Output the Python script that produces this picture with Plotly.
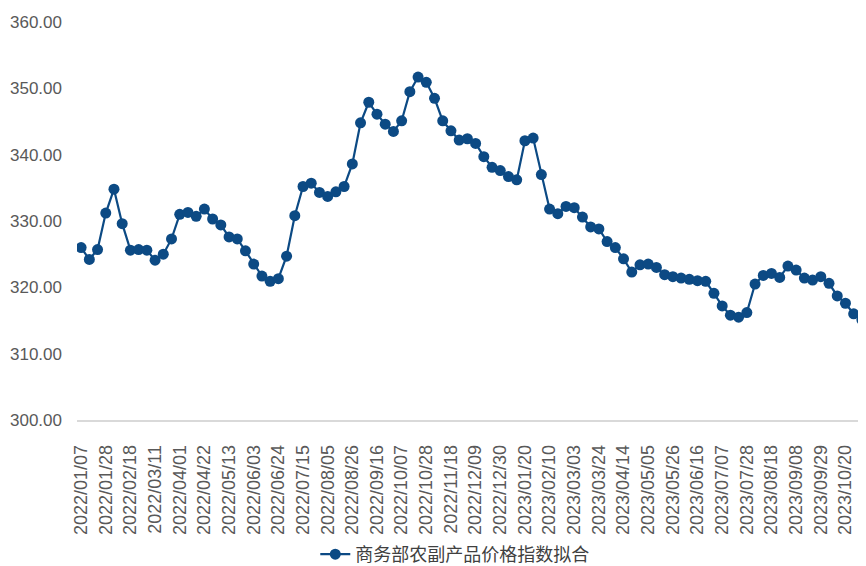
import pandas as pd
import plotly.graph_objects as go

start_date = "2022-01-07"
n_weeks = 96
dates = [d.strftime("%Y/%m/%d") for d in pd.date_range(start_date, periods=n_weeks, freq="7D")]

values = [
    326.0, 324.2, 325.7, 331.2, 334.8, 329.6, 325.6, 325.7, 325.6, 324.1,
    325.0, 327.3, 331.0, 331.3, 330.7, 331.8, 330.3, 329.4, 327.6, 327.3,
    325.5, 323.5, 321.7, 320.9, 321.3, 324.7, 330.8, 335.2, 335.7, 334.3,
    333.7, 334.4, 335.2, 338.6, 344.8, 347.9, 346.1, 344.6, 343.5, 345.1,
    349.5, 351.7, 350.9, 348.5, 345.1, 343.6, 342.2, 342.4, 341.7, 339.7,
    338.1, 337.6, 336.7, 336.2, 342.1, 342.5, 337.0, 331.8, 331.1, 332.2,
    332.0, 330.6, 329.1, 328.8, 326.9, 326.0, 324.3, 322.3, 323.4, 323.5,
    323.0, 321.9, 321.6, 321.4, 321.2, 321.0, 320.9, 319.1, 317.2, 315.8,
    315.5, 316.2, 320.5, 321.8, 322.1, 321.5, 323.2, 322.6, 321.4, 321.1,
    321.6, 320.6, 318.7, 317.6, 316.0, 315.1,
]

tick_labels = dates[::3]
y_ticks = [300, 310, 320, 330, 340, 350, 360]
series_name = "商务部农副产品价格指数拟合"

color = "#0C4A84"

fig = go.Figure()
fig.add_trace(go.Scatter(
    x=dates, y=values, mode="lines+markers", name=series_name,
    line=dict(color=color, width=2.2),
    marker=dict(color=color, size=11),
))

# the page body has an 8px margin, so the figure is offset by 8px right and down
fig.update_layout(
    width=866, height=566,
    margin=dict(l=69, r=8, t=14, b=154, autoexpand=False),
    paper_bgcolor="white", plot_bgcolor="white",
    showlegend=True,
    legend=dict(orientation="h", x=0.302, xanchor="left", y=-0.338, yanchor="middle",
                font=dict(family="Noto Sans CJK SC", size=18, color="#404040")),
    font=dict(family="Liberation Sans", color="#595959"),
)
fig.update_xaxes(
    type="category", range=[-0.5, n_weeks - 0.5], automargin=False,
    tickmode="array", tickvals=tick_labels, ticktext=tick_labels,
    tickangle=-90, tickfont=dict(size=18, color="#595959"),
    showline=True, linecolor="#D9D9D9", linewidth=1.5,
    showgrid=False, ticks="", ticklabelstandoff=16,
)
fig.update_yaxes(
    range=[300, 360], tickvals=y_ticks, tickformat=".2f", automargin=False,
    tickfont=dict(size=17, color="#595959"),
    showgrid=False, zeroline=False, showline=False, ticks="",
    ticklabelstandoff=14,
)

fig.write_html("out.html")
